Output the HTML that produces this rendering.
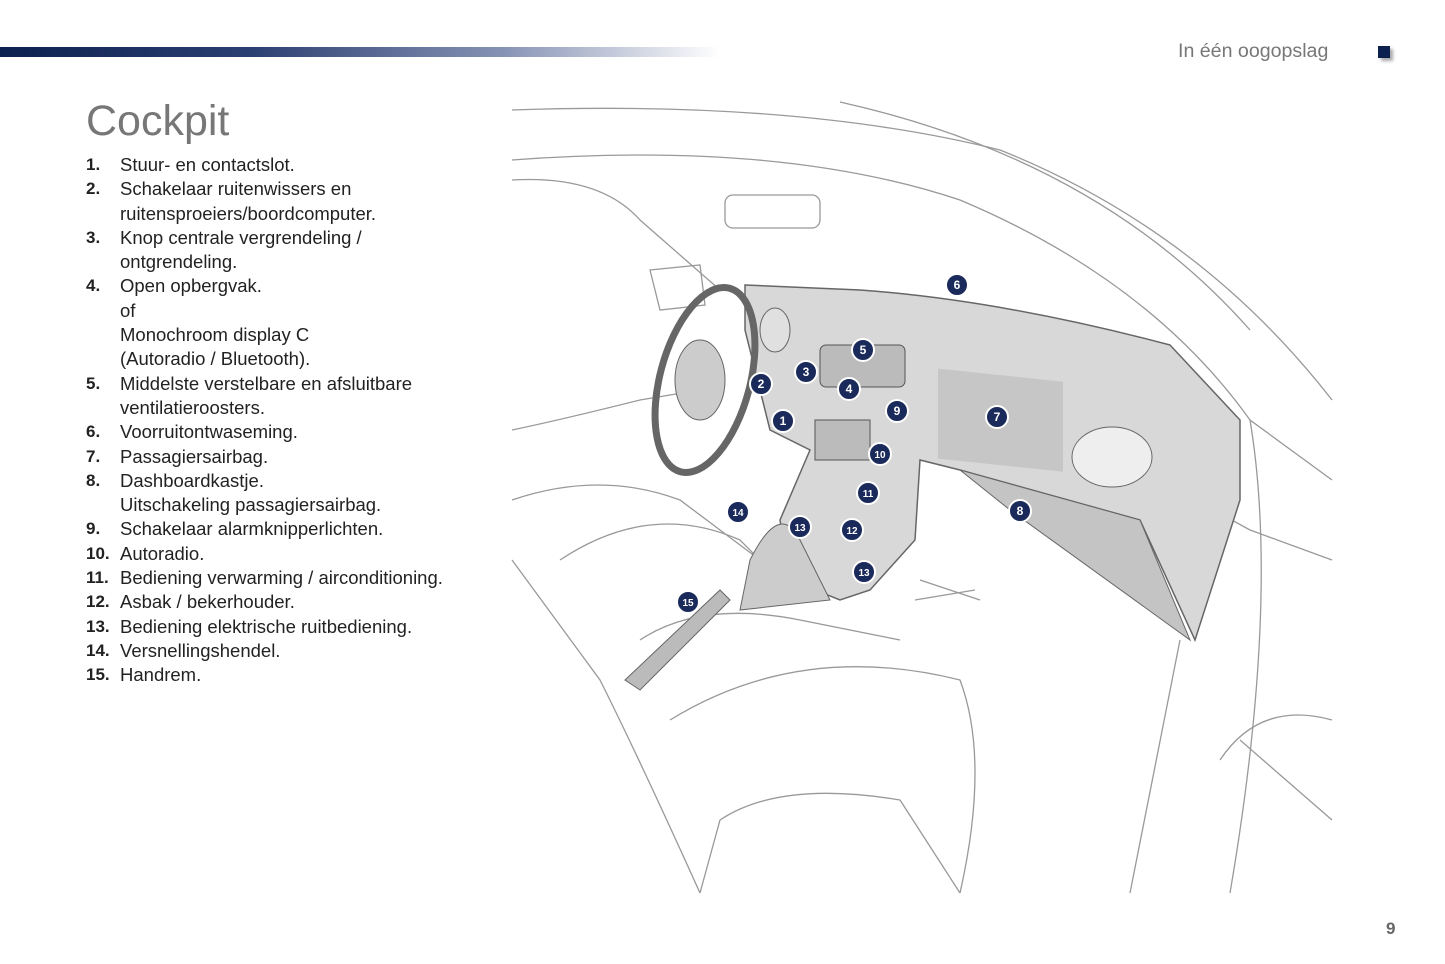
<!DOCTYPE html>
<html><head><meta charset="utf-8"><style>
body{margin:0;width:1445px;height:964px;background:#fff;position:relative;overflow:hidden;font-family:"Liberation Sans",sans-serif}
.bar{position:absolute;left:0;top:47px;width:720px;height:10px;background:linear-gradient(90deg,#0d2150 0%,#2c3f72 35%,#8793b5 70%,#fff 100%)}
.hdr{position:absolute;left:1178px;top:40px;font-size:19.6px;color:#777}
.sq{position:absolute;left:1378px;top:46px;width:12px;height:12px;background:#0d2150;box-shadow:3px 3px 3px #aaa}
h1{position:absolute;left:86px;top:97px;margin:0;font-weight:normal;font-size:43px;color:#777}
.list{position:absolute;left:86px;top:153px;font-size:18.5px;color:#222;line-height:24.3px}
.list div{padding-left:34px;position:relative}
.list b{position:absolute;left:0;font-size:17px}
.pg{position:absolute;left:1386px;top:919px;font-size:17px;font-weight:bold;color:#666}
svg{position:absolute;left:0;top:0}
</style></head><body>
<div class="bar"></div><div class="hdr">In één oogopslag</div><div class="sq"></div>
<h1>Cockpit</h1>
<div class="list">
<div><b>1.</b>Stuur- en contactslot.</div>
<div><b>2.</b>Schakelaar ruitenwissers en<br>ruitensproeiers/boordcomputer.</div>
<div><b>3.</b>Knop centrale vergrendeling /<br>ontgrendeling.</div>
<div><b>4.</b>Open opbergvak.<br>of<br>Monochroom display C<br>(Autoradio / Bluetooth).</div>
<div><b>5.</b>Middelste verstelbare en afsluitbare<br>ventilatieroosters.</div>
<div><b>6.</b>Voorruitontwaseming.</div>
<div><b>7.</b>Passagiersairbag.</div>
<div><b>8.</b>Dashboardkastje.<br>Uitschakeling passagiersairbag.</div>
<div><b>9.</b>Schakelaar alarmknipperlichten.</div>
<div><b>10.</b>Autoradio.</div>
<div><b>11.</b>Bediening verwarming / airconditioning.</div>
<div><b>12.</b>Asbak / bekerhouder.</div>
<div><b>13.</b>Bediening elektrische ruitbediening.</div>
<div><b>14.</b>Versnellingshendel.</div>
<div><b>15.</b>Handrem.</div>
</div>
<div class="pg">9</div>
<svg width="1445" height="964" viewBox="0 0 1445 964">
<g fill="none" stroke="#999" stroke-width="1.3">
<path d="M512 110 Q800 100 1000 150 Q1200 230 1332 400"/>
<path d="M512 160 Q780 140 960 200 Q1150 280 1250 420 L1332 480"/>
<path d="M512 180 Q600 175 640 220 L720 290"/>
<path d="M840 102 Q1100 160 1250 330"/>
<path d="M512 430 Q560 420 640 400 L700 390"/>
<path d="M512 500 Q600 470 680 500 L760 560"/>
<path d="M512 560 L600 680 Q640 760 700 893"/>
<path d="M560 560 Q650 500 740 540 L800 600"/>
<path d="M670 720 Q800 640 960 680 Q990 760 960 893"/>
<path d="M640 640 Q700 600 800 620 L900 640"/>
<path d="M700 893 L720 820 Q780 780 900 800 L960 893"/>
<path d="M1140 470 L1250 530 L1332 560"/>
<path d="M1180 640 L1130 893"/>
<path d="M1250 420 Q1280 600 1230 893"/>
<path d="M1220 760 Q1260 700 1332 720"/>
<path d="M1240 740 L1332 820"/>
<rect x="725" y="195" width="95" height="33" rx="8"/>
<path d="M650 270 L700 265 L705 305 L660 310 Z"/>
<path d="M920 580 L980 600 M915 600 L975 590"/>
</g>
<path d="M745 285 L860 290 Q1000 300 1170 345 L1240 420 L1240 500 L1195 640 L1140 520 L960 470 L920 460 L915 540 L870 590 L840 600 L790 580 L780 520 L810 450 L770 430 L745 330 Z" fill="#d8d8d8" stroke="#666" stroke-width="1.5"/>
<path d="M960 470 L1140 520 L1190 640 L1010 510 Z" fill="#c4c4c4" stroke="#666"/>
<rect x="938" y="370" width="125" height="90" fill="#c6c6c6" transform="skewY(6) translate(0,-100)"/>
<ellipse cx="1112" cy="457" rx="40" ry="30" fill="#eee" stroke="#666"/>
<rect x="820" y="345" width="85" height="42" rx="6" fill="#bbb" stroke="#555"/>
<rect x="815" y="420" width="55" height="40" fill="#bbb" stroke="#555"/>
<ellipse cx="705" cy="380" rx="45" ry="95" fill="none" stroke="#666" stroke-width="7" transform="rotate(15 705 380)"/>
<ellipse cx="700" cy="380" rx="25" ry="40" fill="#ccc" stroke="#666"/>
<ellipse cx="775" cy="330" rx="15" ry="22" fill="#e0e0e0" stroke="#666"/>
<path d="M750 560 Q780 500 800 540 L830 600 L740 610 Z" fill="#ccc" stroke="#666"/>
<path d="M625 680 L720 590 L730 600 L640 690 Z" fill="#bbb" stroke="#666"/>
<g fill="#1a2a5a" stroke="#fff" stroke-width="2">
<circle cx="783" cy="421" r="11"/><circle cx="761" cy="384" r="11"/><circle cx="806" cy="372" r="11"/><circle cx="849" cy="389" r="11"/><circle cx="863" cy="350" r="11"/><circle cx="957" cy="285" r="11"/><circle cx="997" cy="417" r="11"/><circle cx="1020" cy="511" r="11"/><circle cx="897" cy="411" r="11"/><circle cx="880" cy="454" r="11"/><circle cx="868" cy="493" r="11"/><circle cx="852" cy="530" r="11"/><circle cx="800" cy="527" r="11"/><circle cx="864" cy="572" r="11"/><circle cx="738" cy="512" r="11"/><circle cx="688" cy="602" r="11"/>
</g>
<g fill="#fff" font-family="Liberation Sans" font-weight="bold" font-size="12" text-anchor="middle">
<text x="783" y="425">1</text><text x="761" y="388">2</text><text x="806" y="376">3</text><text x="849" y="393">4</text><text x="863" y="354">5</text><text x="957" y="289">6</text><text x="997" y="421">7</text><text x="1020" y="515">8</text><text x="897" y="415">9</text><text x="880" y="458" font-size="10">10</text><text x="868" y="497" font-size="10">11</text><text x="852" y="534" font-size="10">12</text><text x="800" y="531" font-size="10">13</text><text x="864" y="576" font-size="10">13</text><text x="738" y="516" font-size="10">14</text><text x="688" y="606" font-size="10">15</text>
</g>
</svg>
</body></html>
